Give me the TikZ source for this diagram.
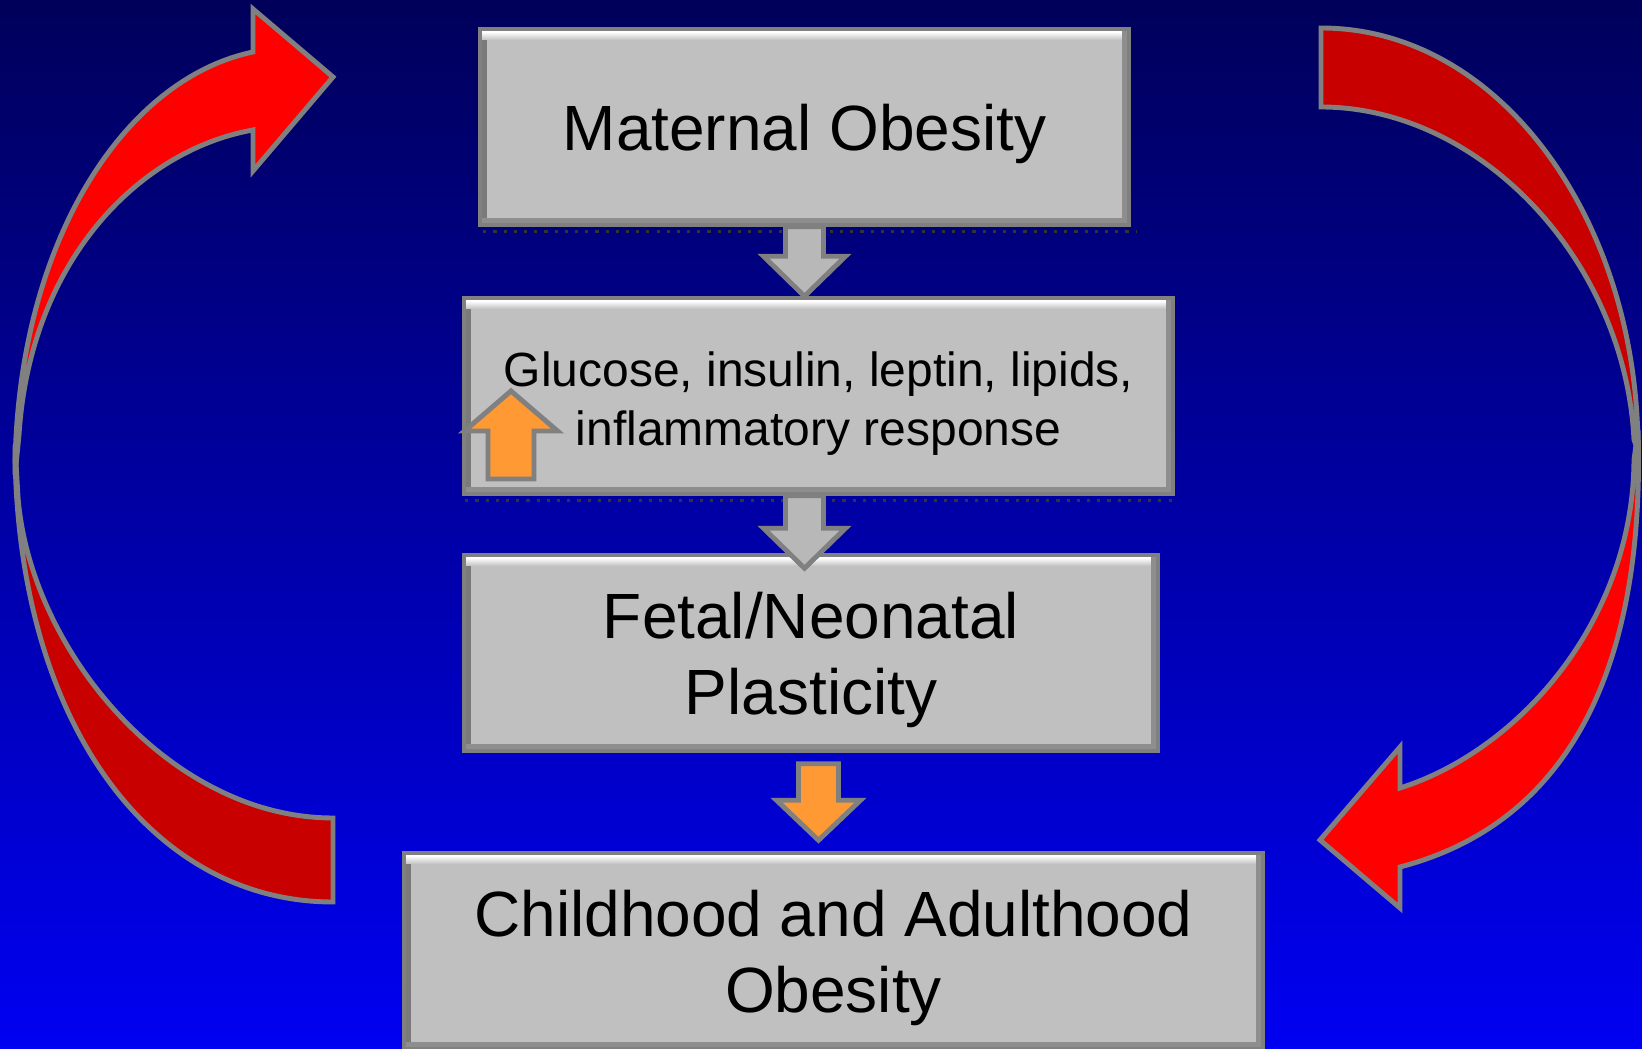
\documentclass[tikz,border=0pt]{standalone}
\usepackage{fontspec}
\setmainfont{Liberation Sans}
\usetikzlibrary{calc}

\definecolor{bgtop}{HTML}{00005A}
\definecolor{bgbottom}{HTML}{0000F2}
\definecolor{slabgray}{HTML}{C0C0C0}
\definecolor{slabdark}{HTML}{8E8E8E}
\definecolor{slabside}{HTML}{7A7A7A}
\definecolor{rimgray}{HTML}{808080}
\definecolor{arrowgray}{HTML}{B8B8B8}
\definecolor{upcolor}{HTML}{FF9933}
\definecolor{brightred}{HTML}{FF0000}
\definecolor{darkred}{HTML}{C80000}

\newcommand{\blkshaft}{0.19cm}
\newcommand{\blkwing}{0.41cm}
\newcommand{\blkhead}{0.40cm}
% text sits a little below the middle of each box
\newcommand{\sunk}[1]{\raisebox{-0.085cm}[\height][\depth]{\begin{tabular}{@{}c@{}}#1\end{tabular}}}

\tikzset{
  slab/.style={rectangle, fill=slabgray, draw=rimgray, line width=1pt, inner sep=0pt,
    path picture={
      \fill[slabside] (path picture bounding box.south west) rectangle ([xshift=0.07cm]path picture bounding box.north west);
      \shade[top color=white, bottom color=slabgray] ([yshift=-0.03cm]path picture bounding box.north west) rectangle ([yshift=-0.11cm]path picture bounding box.north east);
      \fill[slabdark] (path picture bounding box.south west) rectangle ([yshift=0.07cm]path picture bounding box.south east);
      \fill[slabdark] (path picture bounding box.south east) rectangle ([xshift=-0.07cm]path picture bounding box.north east);
    }},
  bigtext/.style={font=\fontsize{18.2}{21.6}\selectfont},
  smalltext/.style={font=\fontsize{13.65}{16.8}\selectfont},
  blk shaft/.store in=\blkshaft,
  blk wing/.store in=\blkwing,
  blk head/.store in=\blkhead,
  blockarrow/.style={draw=rimgray, line width=1.4pt, line join=miter,
    to path={let \p1=(\tikztostart), \p2=(\tikztotarget), \n1={sign(\y2-\y1)*\blkhead} in
      ({\x1-\blkshaft},{\y1}) -- ({\x1-\blkshaft},{\y2-\n1}) -- ({\x1-\blkwing},{\y2-\n1})
      -- ({\x1},{\y2}) -- ({\x1+\blkwing},{\y2-\n1}) -- ({\x1+\blkshaft},{\y2-\n1})
      -- ({\x1+\blkshaft},{\y1}) -- cycle}},
  ribbon/.style={draw=rimgray, line width=1.4pt, line join=miter},
  dotshadow/.style={black!80, line width=0.9pt, dotted}
}

\begin{document}
\begin{tikzpicture}
  \useasboundingbox (0,0) rectangle (16.42,-10.49);
  \shade[top color=bgtop, bottom color=bgbottom] (0,0) rectangle (16.42,-10.49);
  %left loop
  \draw[ribbon, fill=darkred] (0.15,-4.45) .. controls (0.15,-7.20) and (1.50,-9.02) .. (3.33,-9.02)
    -- (3.33,-8.18) .. controls (1.70,-8.18) and (0.30,-6.50) .. (0.18,-4.97) -- cycle;
  \draw[ribbon, fill=brightred] (0.15,-4.75) .. controls (0.15,-2.50) and (1.20,-0.80) .. (2.53,-0.52)
    -- (2.53,-0.09) -- (3.33,-0.77) -- (2.53,-1.71) -- (2.53,-1.30)
    .. controls (1.40,-1.50) and (0.30,-2.60) .. (0.19,-4.35) -- cycle;
  %right loop
  \draw[ribbon, fill=darkred] (13.21,-0.28) .. controls (15.00,-0.28) and (16.38,-2.20) .. (16.38,-4.50)
    -- (16.34,-4.40) .. controls (16.25,-2.60) and (14.80,-1.07) .. (13.21,-1.07) -- cycle;
  \draw[ribbon, fill=brightred] (16.38,-4.30) .. controls (16.45,-6.50) and (15.80,-8.20) .. (14.00,-8.67)
    -- (14.00,-9.08) -- (13.20,-8.40) -- (14.00,-7.47) -- (14.00,-7.88)
    .. controls (15.20,-7.50) and (16.33,-6.20) .. (16.34,-4.60) -- cycle;

  %boxes
  \node[slab, bigtext, minimum width=6.49cm, minimum height=1.96cm] (mat) at (8.045,-1.27) {\sunk{Maternal Obesity}};
  \node[slab, smalltext, minimum width=7.09cm, minimum height=1.96cm] (glu) at (8.185,-3.96) {\sunk{Glucose, insulin, leptin, lipids,\\ inflammatory response}};
  \node[slab, bigtext, minimum width=6.94cm, minimum height=1.96cm] (fet) at (8.11,-6.53) {\sunk{Fetal/Neonatal\\ Plasticity}};
  \node[slab, bigtext, minimum width=8.59cm, minimum height=1.96cm] (chi) at (8.335,-9.51) {\sunk{Childhood and Adulthood\\ Obesity}};
  \draw[dotshadow] ($(mat.south west)+(0.05,-0.05)$) -- ($(mat.south east)+(0.05,-0.05)$);
  \draw[dotshadow] ($(glu.south west)+(0.03,-0.05)$) -- ($(glu.south east)+(0.03,-0.05)$);

  %block arrows
  \draw[blockarrow, fill=arrowgray] (mat.south) to (mat.south |- glu.north);
  \draw[blockarrow, fill=arrowgray] (mat.south |- glu.south) to ($(mat.south |- fet.north)+(0,-0.15)$);
  \draw[blockarrow, fill=upcolor, blk shaft=0.20cm, blk wing=0.42cm, blk head=0.40cm]
    ($(glu.south |- fet.south)+(0,-0.11)$) to ($(glu.south |- chi.north)+(0,0.11)$);
  \coordinate (upfoot) at (5.11,-4.79);
  \coordinate (uptip) at (5.11,-3.91);
  \draw[blockarrow, fill=upcolor, blk shaft=0.23cm, blk wing=0.465cm, blk head=0.40cm] (upfoot) to (uptip);
\end{tikzpicture}
\end{document}
